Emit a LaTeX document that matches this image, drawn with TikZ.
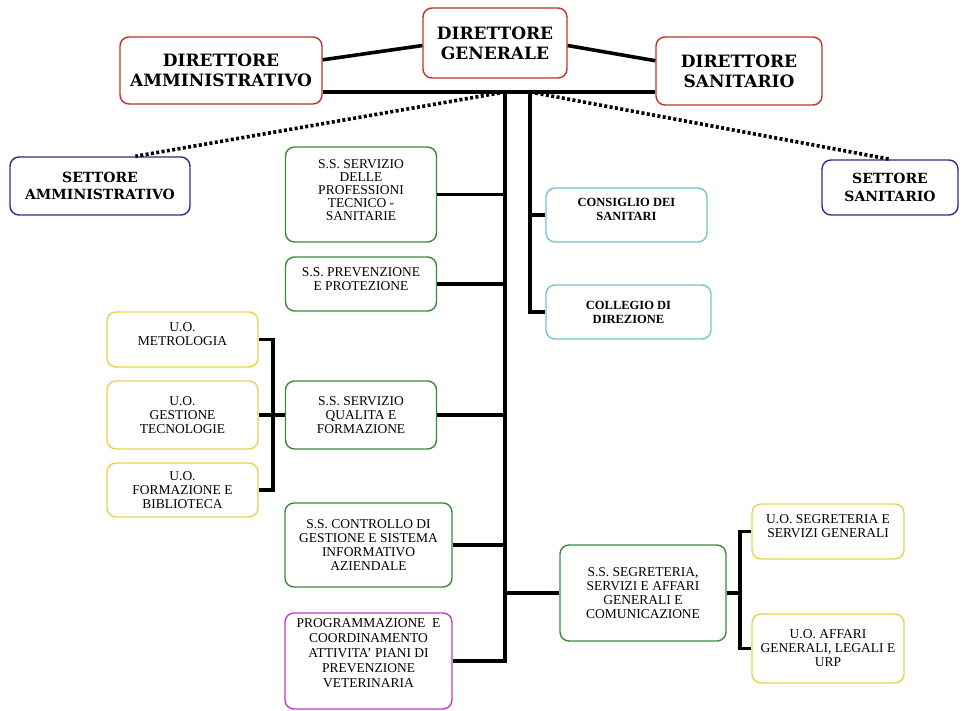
\documentclass[tikz,border=0pt]{standalone}
\usepackage{fontspec}
\setmainfont{Liberation Serif}
\newfontfamily\headfont{DejaVu Serif}
\usepackage{xcolor}
\definecolor{boxred}{HTML}{C4302B}
\definecolor{boxblue}{HTML}{2B2B8C}
\definecolor{boxgreen}{HTML}{3A8A3A}
\definecolor{boxcyan}{HTML}{6CC8CC}
\definecolor{boxyellow}{HTML}{E6D24E}
\definecolor{boxmagenta}{HTML}{C23CC8}
\usetikzlibrary{calc}

\begin{document}
\begin{tikzpicture}[x=1pt, y=-1pt,
  box/.style={draw, line width=1.4pt, rounded corners=9pt, align=center, inner sep=2pt},
  direz/.style={box, draw=boxred, font=\headfont\bfseries\fontsize{17}{20}\selectfont},
  settore/.style={box, draw=boxblue, font=\headfont\bfseries\fontsize{14}{17.5}\selectfont},
  staff/.style={box, draw=boxcyan, font=\bfseries\fontsize{12.5}{14}\selectfont},
  ss/.style={box, draw=boxgreen, font=\fontsize{13.5}{14}\selectfont},
  uo/.style={box, draw=boxyellow, font=\fontsize{13.5}{14}\selectfont},
  prog/.style={box, draw=boxmagenta, font=\fontsize{13.5}{15}\selectfont},
  link/.style={line width=3.6pt},
  dotlink/.style={line width=3.6pt, dash pattern=on 3pt off 2.4pt}]
\useasboundingbox (0,0) rectangle (965,711);

% vertici
\node[direz, minimum width=144pt, minimum height=70pt] (dg) at (495,43) {DIRETTORE\\GENERALE};
\node[direz, minimum width=202pt, minimum height=67pt] (da) at (221,70.5) {DIRETTORE\\AMMINISTRATIVO};
\node[direz, minimum width=166pt, minimum height=68pt] (ds) at (739,71) {DIRETTORE\\SANITARIO};
\node[settore, minimum width=180pt, minimum height=58pt] (samm) at (100,186) {SETTORE\\AMMINISTRATIVO};
\node[settore, minimum width=136pt, minimum height=55pt] (ssan) at (890,187.5) {SETTORE\\SANITARIO};

% staff
\node[ss, minimum width=151pt, minimum height=95pt, font=\fontsize{13.5}{12.8}\selectfont] (prof) at (361,194.5) {S.S. SERVIZIO\\DELLE\\PROFESSIONI\\TECNICO -\\SANITARIE\\[-4pt]};
\node[ss, minimum width=151pt, minimum height=54pt] (prev) at (361,284) {S.S. PREVENZIONE\\E PROTEZIONE\\[-4pt]};
\node[ss, minimum width=151pt, minimum height=68pt] (qual) at (361,415) {S.S. SERVIZIO\\QUALITA E\\FORMAZIONE};
\node[ss, minimum width=167pt, minimum height=84pt] (ctrl) at (368.5,545) {S.S. CONTROLLO DI\\GESTIONE E SISTEMA\\INFORMATIVO\\AZIENDALE};
\node[prog, minimum width=167pt, minimum height=96pt] (prog) at (368.5,661) {PROGRAMMAZIONE~ E\\COORDINAMENTO\\ATTIVITA’ PIANI DI\\PREVENZIONE\\VETERINARIA\\[0pt]};
\node[staff, minimum width=161pt, minimum height=54pt] (cons) at (626.5,215) {CONSIGLIO DEI\\SANITARI\\[-2pt]};
\node[staff, minimum width=165pt, minimum height=54pt] (coll) at (628.5,312) {COLLEGIO DI\\DIREZIONE};
\node[ss, minimum width=166pt, minimum height=96pt] (segr) at (643,593) {S.S. SEGRETERIA,\\SERVIZI E AFFARI\\GENERALI E\\COMUNICAZIONE};

% unita operative
\node[uo, minimum width=151pt, minimum height=55pt] (metr) at (182.5,339.5) {U.O.\\METROLOGIA\\[-4pt]};
\node[uo, minimum width=151pt, minimum height=68pt] (gest) at (182.5,415) {U.O.\\GESTIONE\\TECNOLOGIE};
\node[uo, minimum width=151pt, minimum height=54pt] (form) at (182.5,490) {U.O.\\FORMAZIONE E\\BIBLIOTECA};
\node[uo, minimum width=152pt, minimum height=55pt] (sgen) at (828,531.5) {U.O. SEGRETERIA E\\SERVIZI GENERALI\\[-4pt]};
\node[uo, minimum width=152pt, minimum height=69pt] (affr) at (828,648.5) {U.O. AFFARI\\GENERALI, LEGALI E\\URP};

% collegamenti
\coordinate (hub) at (505,92);
\coordinate (hub2) at (530,92);
\draw[link] (da.6) -- (dg.182);
\draw[link] (dg.-2) -- (ds.173);
\draw[link] (da.east |- hub) -- (ds.west |- hub);
\draw[link] (prog.east) -| (hub);
\foreach \n in {prof,prev,qual,ctrl}
  \draw[link] (\n.east) -- (\n.east -| hub);
\draw[link] (segr.west) -- (segr.west -| hub);
\draw[link] (coll.west) -| (hub2);
\draw[link] (cons.west) -- (cons.west -| hub2);
\draw[link] (metr.east) -- ++(14,0) |- (form.east);
\draw[link] (gest.east) -- (qual.west);
\draw[link] (segr.east) -- ++(13,0) coordinate (rbus);
\draw[link] (sgen.west) -| (rbus) |- (affr.west);
\draw[dotlink] (hub) -- (samm.40);
\draw[dotlink] (hub2) -- (ssan.north);
\end{tikzpicture}
\end{document}
